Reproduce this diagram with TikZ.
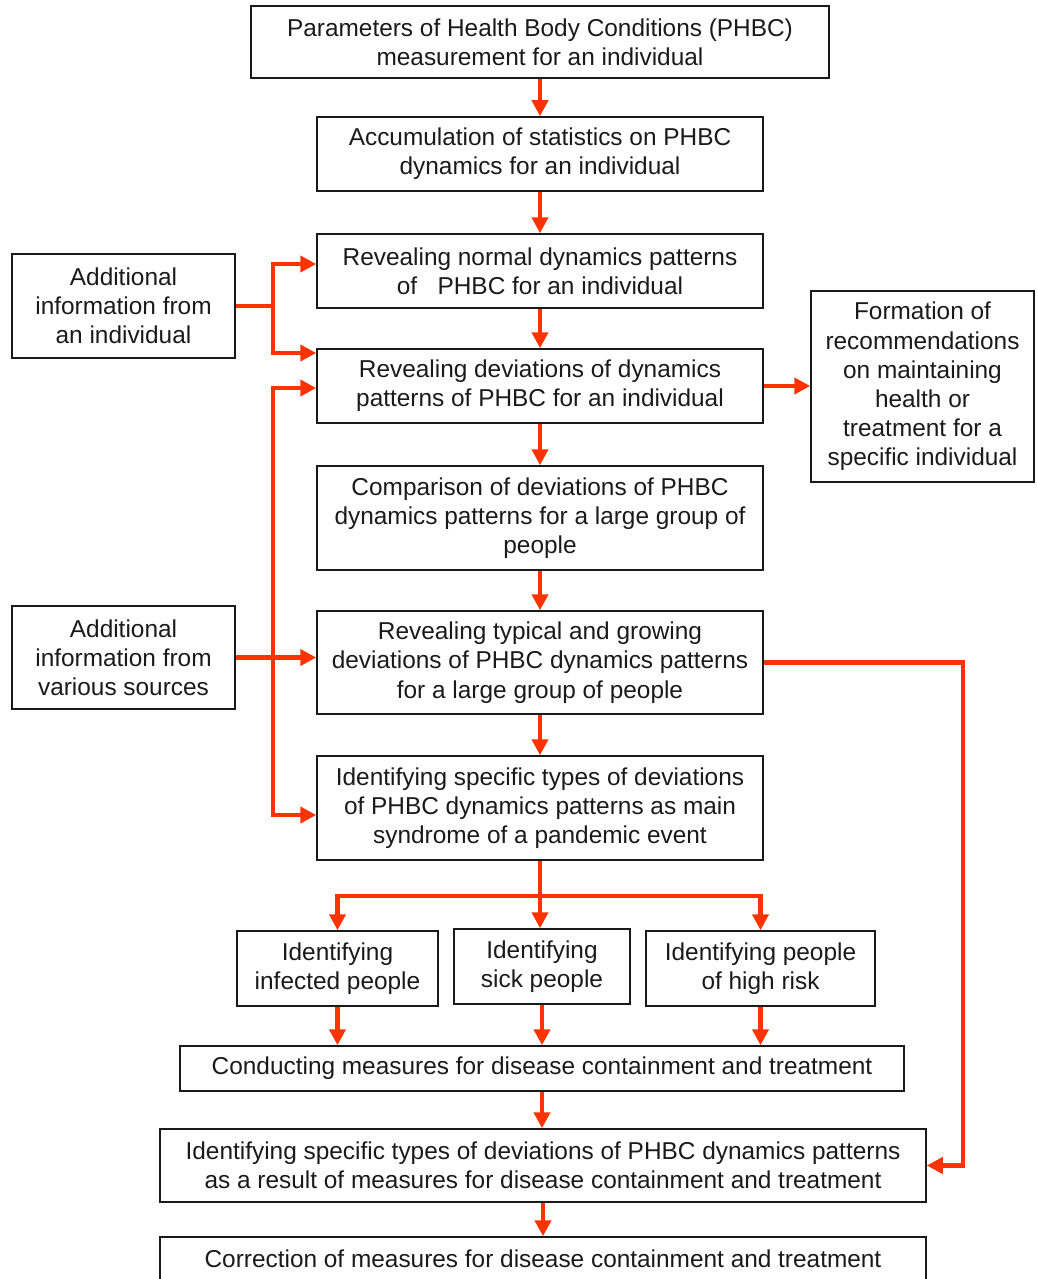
\documentclass[tikz,border=0pt]{standalone}
\usepackage{fontspec}
\setmainfont{Liberation Sans}
\usetikzlibrary{arrows.meta}
\definecolor{arr}{HTML}{FF3300}
\definecolor{ink}{HTML}{1A1A1A}
\begin{document}
\begin{tikzpicture}[x=1pt,y=-1pt,
  box/.style={draw=ink, line width=1.5pt, align=center, inner sep=0pt, text=ink,
    font=\fontsize{24.4}{29.2}\selectfont},
  conn/.style={draw=arr, line width=4.5pt, -{Triangle[length=16pt,width=16pt]}},
  feed/.style={draw=arr, line width=4.5pt}]
\useasboundingbox (0,0) rectangle (1036,1279);
\node[box, minimum width=578pt, minimum height=72pt] (n1) at (540,42) {Parameters of Health Body Conditions (PHBC)\\measurement for an individual};
\node[box, minimum width=446pt, minimum height=74pt] (n2) at (540,154) {Accumulation of statistics on PHBC\\dynamics for an individual};
\node[box, minimum width=446pt, minimum height=74pt] (n3) at (540,271) {Revealing normal dynamics patterns\\of\ \ \ PHBC for an individual};
\node[box, minimum width=446pt, minimum height=74pt] (n4) at (540,386) {Revealing deviations of dynamics\\patterns of PHBC for an individual};
\node[box, minimum width=446pt, minimum height=104pt] (n5) at (540,518) {Comparison of deviations of PHBC\\dynamics patterns for a large group of\\people};
\node[box, minimum width=446pt, minimum height=103pt] (n6) at (540,662.5) {Revealing typical and growing\\deviations of PHBC dynamics patterns\\for a large group of people};
\node[box, minimum width=446pt, minimum height=104pt] (n7) at (540,808) {Identifying specific types of deviations\\of PHBC dynamics patterns as main\\syndrome of a pandemic event};
\node[box, minimum width=223pt, minimum height=104pt] (a1) at (123.5,306) {Additional\\information from\\an individual};
\node[box, minimum width=223pt, minimum height=103pt] (a2) at (123.5,657.5) {Additional\\information from\\various sources};
\node[box, minimum width=223pt, minimum height=191pt] (f) at (922.5,386.5) {Formation of\\recommendations\\on maintaining\\health or\\treatment for a\\specific individual};
\node[box, minimum width=201pt, minimum height=75pt] (s1) at (337.5,968.5) {Identifying\\infected people};
\node[box, minimum width=176pt, minimum height=75pt] (s2) at (542,966.5) {Identifying\\sick people};
\node[box, minimum width=229pt, minimum height=75pt] (s3) at (760.5,968.5) {Identifying people\\of high risk};
\node[box, minimum width=724pt, minimum height=45pt] (c1) at (542,1068.5) {Conducting measures for disease containment and treatment};
\node[box, minimum width=766pt, minimum height=73pt] (r1) at (543,1165.5) {Identifying specific types of deviations of PHBC dynamics patterns\\as a result of measures for disease containment and treatment};
\node[box, minimum width=766pt, minimum height=44pt] (r2) at (543,1259) {Correction of measures for disease containment and treatment};
% main chain
\draw[conn] (n1.south) -- (n2.north);
\draw[conn] (n2.south) -- (n3.north);
\draw[conn] (n3.south) -- (n4.north);
\draw[conn] (n4.south) -- (n5.north);
\draw[conn] (n5.south) -- (n6.north);
\draw[conn] (n6.south) -- (n7.north);
% additional information
\coordinate (j1) at (273,306);
\draw[conn] (a1.east) -- (j1) |- ([yshift=7pt]n3.west);
\draw[conn] (a1.east) -- (j1) |- ([yshift=33pt]n4.west);
\draw[conn] (a2.east) -- (a2.east -| n6.west);
\draw[conn] (a2.east -| j1) |- ([yshift=-2pt]n4.west);
\draw[conn] (a2.east -| j1) |- ([yshift=-7pt]n7.west);
% recommendations
\draw[conn] (n4.east) -- (n4.east -| f.west);
% feedback
\draw[conn] (n6.east) -- ++(199,0) |- (r1.east);
% fan out
\coordinate (fan) at (540,896);
\draw[feed] (n7.south) -- (fan);
\draw[conn] (fan) -| (s1.north);
\draw[conn] (fan) -- (fan |- s2.north);
\draw[conn] (fan) -| (s3.north);
\draw[conn] (s1.south) -- (s1.south |- c1.north);
\draw[conn] (s2.south) -- (s2.south |- c1.north);
\draw[conn] (s3.south) -- (s3.south |- c1.north);
\draw[conn] (c1.south) -- (c1.south |- r1.north);
\draw[conn] (r1.south) -- (r1.south |- r2.north);
\end{tikzpicture}
\end{document}
